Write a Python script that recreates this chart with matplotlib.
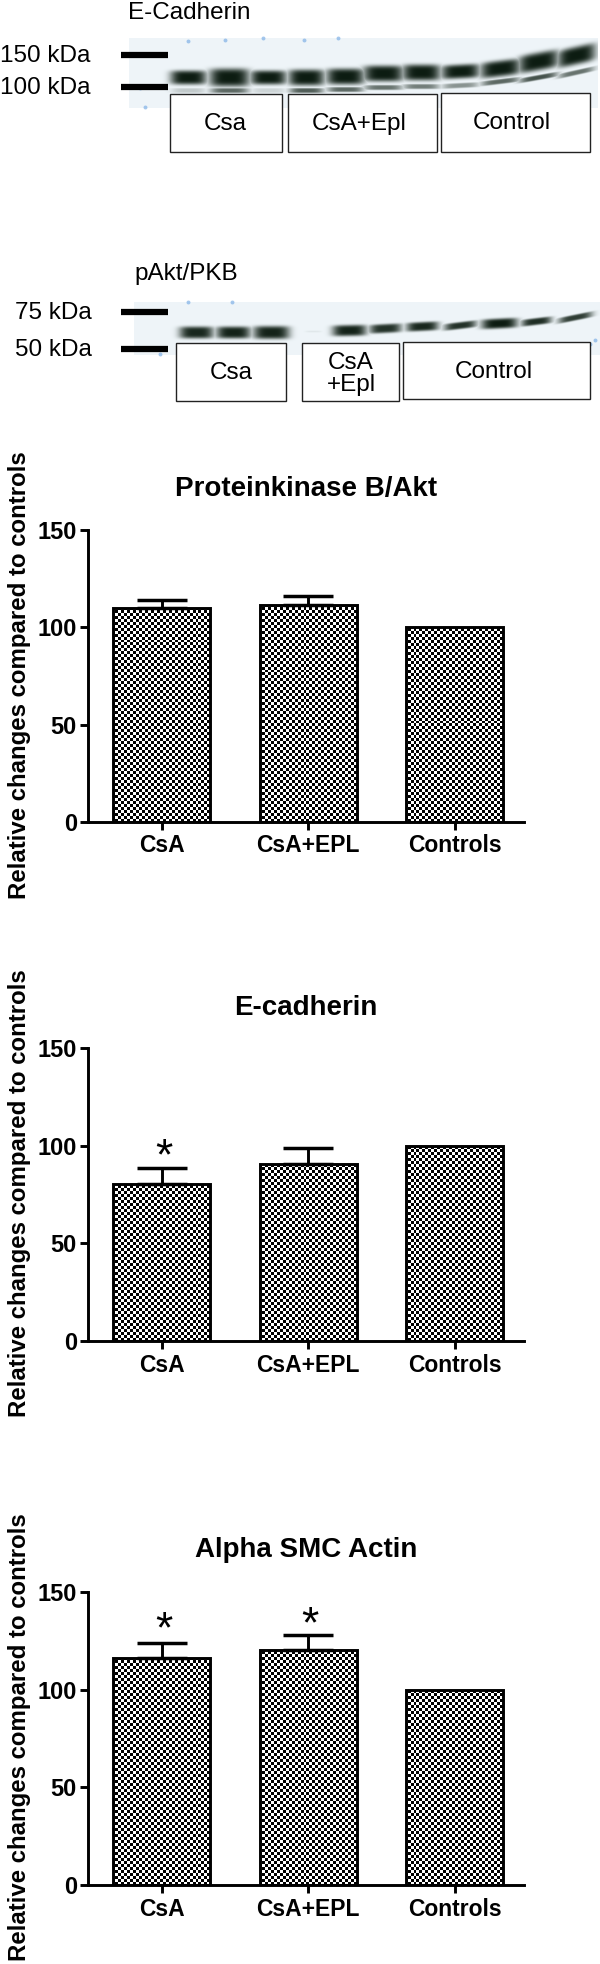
import numpy as np
import matplotlib
matplotlib.use('Agg')
import matplotlib.pyplot as plt
from matplotlib.patches import Rectangle

W, H = 600, 1964
plt.rcParams['font.family'] = ['Liberation Sans', 'DejaVu Sans']

# bar charts
groups = ['CsA', 'CsA+EPL', 'Controls']
akt_values = [110, 111.6, 100]
akt_errors = [4.2, 4.6, 0]
ecad_values = [80.6, 90.8, 100]
ecad_errors = [7.8, 7.8, 0]
actin_values = [116, 120.4, 100]
actin_errors = [7.8, 7.6, 0]
ecad_star_y = [94]
actin_star_y = [130, 132.5]
yticks = [0, 50, 100, 150]

# E-cadherin blot, one entry per lane
ecad_x = [188, 229, 268, 306, 345, 383, 421, 460, 500, 538, 576]
ecad_y = [77, 77, 77, 77, 76, 73, 72, 71, 68, 61, 55]
ecad_half_w = [18, 20, 18, 18, 19, 20, 19, 19, 20, 20, 19]
ecad_half_h = [7, 9, 7, 8, 8, 8, 8, 7, 8, 9, 9]
ecad_tilt = [0, 0, 0, 0, 0, 0, 0, 0.05, 0.12, 0.18, 0.22]
ecad_low_y = [90, 90, 90, 90, 89, 87, 86, 85, 81, 77, 72]
ecad_low_dark = [0.2, 0.65, 0.15, 0.7, 0.65, 0.6, 0.55, 0.45, 0.65, 0.75, 0.6]

# pAkt blot
akt_x = [196, 233, 271, 313, 349, 385, 422, 460, 499, 536, 575]
akt_y = [332, 332, 332, 331, 330, 328, 326, 325, 323, 321, 317]
akt_half_w = [17, 17, 18, 8, 17, 16, 16, 16, 18, 15, 17]
akt_half_h = [6, 6, 6.5, 1, 5.5, 4.5, 4.5, 3.5, 5, 3.5, 3]
akt_tilt = [0, 0, 0, 0, 0.02, 0.05, 0.05, 0.12, 0.05, 0.12, 0.2]
akt_dark = [0.95, 0.97, 0.97, 0.06, 0.97, 0.9, 0.95, 0.9, 1.0, 0.92, 0.85]

# blue pen marks on the membranes
ink_x = [188, 225, 263, 304, 338, 140, 188, 232, 145, 160, 595, 590]
ink_y = [41, 40, 38, 40, 38, 88, 302, 302, 107, 354, 340, 344]


def blot_image(x0, x1, y0, y1, bands):
    xx, yy = np.meshgrid(np.arange(x0, x1), np.arange(y0, y1))
    dark = np.zeros_like(xx, dtype=float)
    for bx, by, bw, bh, tilt, d in bands:
        yc = by - tilt * (xx - bx)
        g = np.exp(-((xx - bx) / bw) ** 4 - ((yy - yc) / bh) ** 4)
        dark = np.maximum(dark, d * g)
    bg_col = np.array([0.935, 0.96, 0.975])
    band_col = np.array([0.05, 0.11, 0.07])
    return bg_col + dark[..., None] * (band_col - bg_col)


fig = plt.figure(figsize=(W / 100, H / 100), dpi=100)
bg = fig.add_axes([0, 0, 1, 1])
bg.axis('off')

ecad_bands = []
for i in range(len(ecad_x)):
    ecad_bands.append((ecad_x[i], ecad_y[i], ecad_half_w[i], ecad_half_h[i], ecad_tilt[i], 1.0))
    ecad_bands.append((ecad_x[i], ecad_low_y[i], ecad_half_w[i] - 1, 2.5, ecad_tilt[i], ecad_low_dark[i]))
bg.imshow(blot_image(129, 598, 38, 108, ecad_bands), extent=(129, 598, 108, 38), aspect='auto')

akt_bands = []
for i in range(len(akt_x)):
    akt_bands.append((akt_x[i], akt_y[i], akt_half_w[i], akt_half_h[i], akt_tilt[i], akt_dark[i]))
bg.imshow(blot_image(134, 600, 302, 355, akt_bands), extent=(134, 600, 355, 302), aspect='auto')
bg.scatter(ink_x, ink_y, s=8, color='#7fb0e6', linewidths=0, alpha=0.7)
bg.set_xlim(0, W)
bg.set_ylim(H, 0)

# marker lines and labels for the blots
for y, label, x_text in [(55, '150 kDa', 0), (87, '100 kDa', 0), (312, '75 kDa', 15), (349, '50 kDa', 15)]:
    bg.plot([121, 168], [y, y], color='black', lw=4.5, solid_capstyle='butt')
    bg.text(x_text, y + 1, label, fontsize=17.5, va='center', ha='left')
bg.text(128, 13, 'E-Cadherin', fontsize=17.5, va='center')
bg.text(134, 274, 'pAkt/PKB', fontsize=17.5, va='center')

boxes = [(170, 94, 112, 58, 'Csa', 225, 124),
         (288, 94, 149, 58, 'CsA+Epl', 359, 124),
         (441, 93, 149, 59, 'Control', 512, 123),
         (176, 343, 110, 58, 'Csa', 231, 373),
         (302, 343, 97, 58, 'CsA\n+Epl', 351, 374),
         (403, 342, 187, 57, 'Control', 494, 372)]
for x, y, w, h, label, tx, ty in boxes:
    bg.add_patch(Rectangle((x, y), w, h, fc='white', ec='#222222', lw=1))
    bg.text(tx, ty, label, fontsize=17.5, ha='center', va='center', linespacing=1.0)


def bar_chart(y150, y0, values, errors, title, title_y, stars, star_y):
    ax = fig.add_axes([88 / W, 1 - y0 / H, (524 - 88) / W, (y0 - y150) / H])
    ax.patch.set_alpha(0)
    centers = [73.5, 220, 366.5]
    bars = ax.bar(centers, values, width=97, facecolor='none', edgecolor='black', linewidth=2.1, zorder=3)
    ax.errorbar(centers[:2], values[:2], yerr=[[0, 0], errors[:2]], fmt='none', ecolor='black',
                elinewidth=2.1, capsize=18, capthick=2.5, zorder=2)
    # checker pattern as image, clipped to each bar
    yy, xx = np.indices((int(y0 - y150) // 3 + 1, 436 // 3 + 1))
    checker = (xx + yy) % 2
    for b in bars:
        im = ax.imshow(checker, extent=(0, 436, 0, 150), cmap='gray', vmin=0, vmax=1,
                       aspect='auto', interpolation='nearest', zorder=1)
        im.set_clip_path(Rectangle(b.get_xy(), b.get_width(), b.get_height(), transform=ax.transData))
    ax.set_xlim(0, 436)
    ax.set_ylim(0, 150)
    for s in ['top', 'right']:
        ax.spines[s].set_visible(False)
    for s in ['left', 'bottom']:
        ax.spines[s].set_linewidth(2.1)
    ax.set_xticks(centers)
    ax.set_xticklabels(groups, fontweight='bold', fontsize=16.5)
    ax.set_yticks(yticks)
    ax.set_yticklabels(yticks, fontweight='bold', fontsize=17)
    ax.tick_params(length=6, width=2.1, pad=2)
    ax.tick_params(axis='x', pad=3)
    for i, sy in zip(stars, star_y):
        ax.text(centers[i] + 2, sy, '*', fontsize=32, ha='center', va='center')
    bg.text(306, title_y, title, fontsize=20, fontweight='bold', ha='center', va='center')
    bg.text(20, (y0 + y150) / 2 - 1, 'Relative changes compared to controls', rotation=90, fontsize=17.3,
            fontweight='bold', ha='center', va='center')


bar_chart(530, 822, akt_values, akt_errors, 'Proteinkinase B/Akt', 489, [], [])
bar_chart(1048, 1341, ecad_values, ecad_errors, 'E-cadherin', 1008, [0], ecad_star_y)
bar_chart(1592, 1885, actin_values, actin_errors, 'Alpha SMC Actin', 1550, [0, 1], actin_star_y)

fig.savefig('out.png', dpi=100)
